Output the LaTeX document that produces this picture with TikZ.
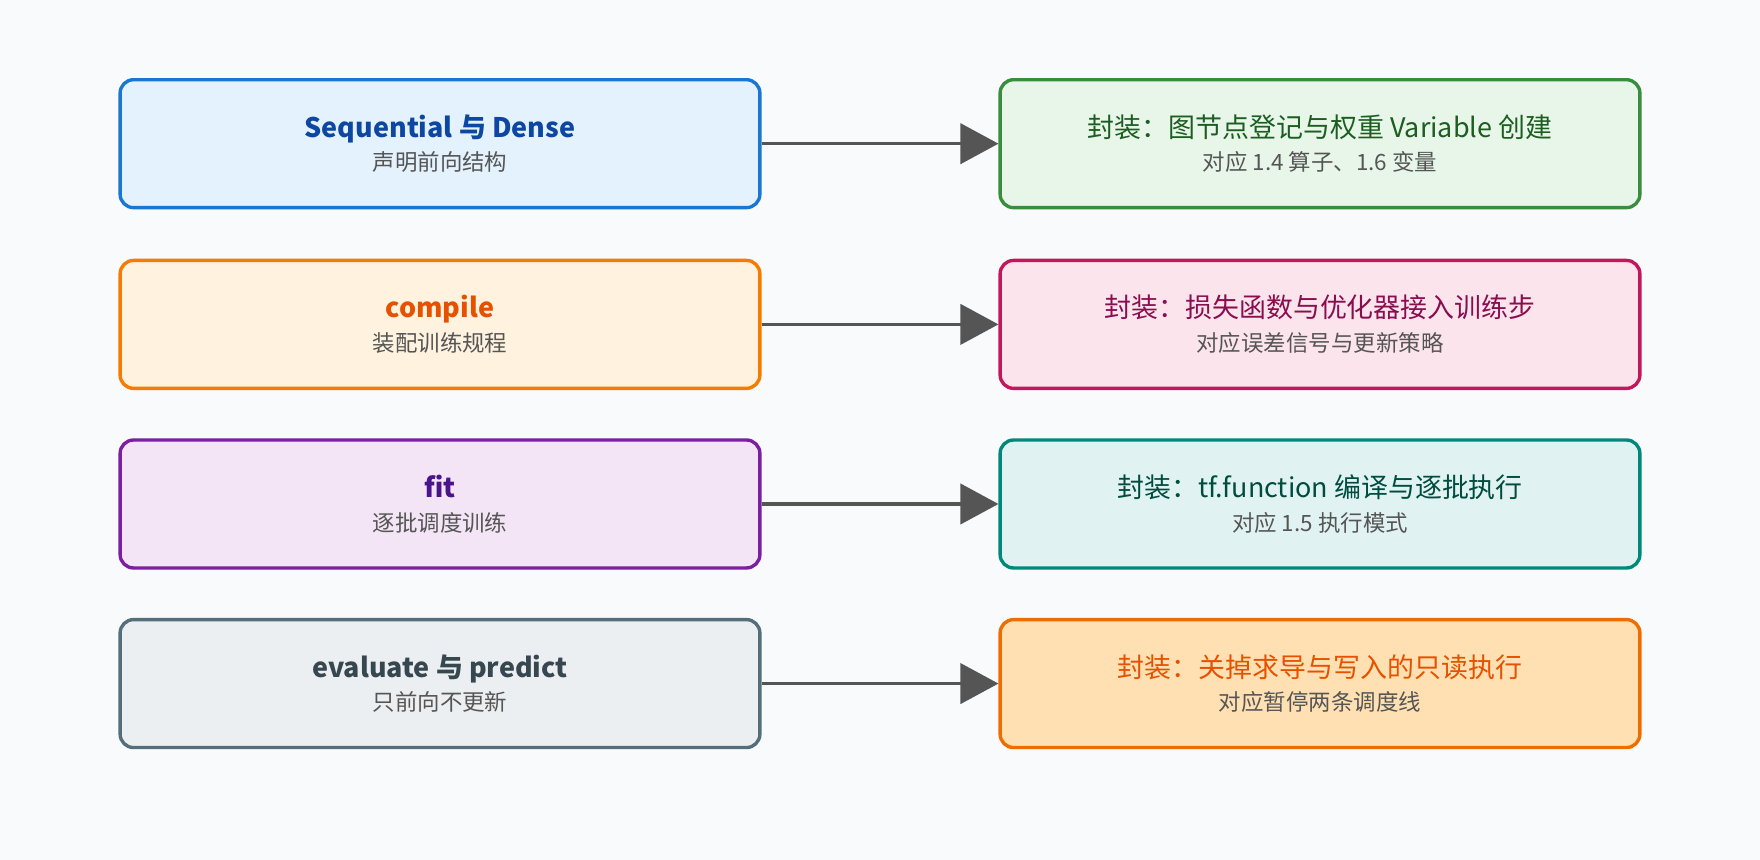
\documentclass[tikz,border=0pt]{standalone}
\usepackage{fontspec}
\setmainfont{Noto Sans CJK SC}
\usetikzlibrary{positioning,arrows.meta}
\definecolor{bgc}{HTML}{F8FAFC}
\definecolor{subc}{HTML}{555555}
\definecolor{arrc}{HTML}{555555}
\definecolor{bA}{HTML}{1976D2}\definecolor{fA}{HTML}{E3F2FD}
\definecolor{bB}{HTML}{F57C00}\definecolor{fB}{HTML}{FFF3E0}
\definecolor{bC}{HTML}{7B1FA2}\definecolor{fC}{HTML}{F3E5F5}
\definecolor{bD}{HTML}{546E7A}\definecolor{fD}{HTML}{ECEFF1}
\definecolor{bE}{HTML}{388E3C}\definecolor{fE}{HTML}{E8F5E9}
\definecolor{bF}{HTML}{C2185B}\definecolor{fF}{HTML}{FCE4EC}
\definecolor{bG}{HTML}{00897B}\definecolor{fG}{HTML}{E0F2F1}
\definecolor{bH}{HTML}{EF6C00}\definecolor{fH}{HTML}{FFE0B2}
\tikzset{
  box/.style={draw, line width=1.5pt, rounded corners=6pt, minimum width=285pt,
    minimum height=57pt, inner sep=0pt},
  flow/.style={draw=arrc, line width=1.5pt, -{Triangle[length=17pt,width=18pt]}}
}
\newcommand{\ttl}[3]{\parbox{270pt}{\centering{\fontsize{12}{14}\selectfont\color[HTML]{#1}#2}\\[3pt]{\fontsize{10}{12}\selectfont\color{subc}#3}}}
\begin{document}
\begin{tikzpicture}[x=0.5pt,y=-0.5pt]
\fill[bgc] (0,0) rectangle (1568,766);
% left column
\node[box, draw=bA, fill=fA] (seq) at (392,128)
  {\ttl{0D47A1}{\bfseries Sequential 与 Dense}{声明前向结构}};
\node[box, draw=bB, fill=fB] (comp) at (392,289)
  {\ttl{E65100}{\bfseries compile}{装配训练规程}};
\node[box, draw=bC, fill=fC] (fit) at (392,449)
  {\ttl{4A148C}{\bfseries fit}{逐批调度训练}};
\node[box, draw=bD, fill=fD] (eval) at (392,609)
  {\ttl{37474F}{\bfseries evaluate 与 predict}{只前向不更新}};
% right column
\node[box, draw=bE, fill=fE] (graph) at (1176,128)
  {\ttl{1B5E20}{封装：图节点登记与权重 Variable 创建}{对应 1.4 算子、1.6 变量}};
\node[box, draw=bF, fill=fF] (loss) at (1176,289)
  {\ttl{880E4F}{封装：损失函数与优化器接入训练步}{对应误差信号与更新策略}};
\node[box, draw=bG, fill=fG] (tff) at (1176,449)
  {\ttl{004D40}{封装：tf.function 编译与逐批执行}{对应 1.5 执行模式}};
\node[box, draw=bH, fill=fH] (ro) at (1176,609)
  {\ttl{E65100}{封装：关掉求导与写入的只读执行}{对应暂停两条调度线}};
% arrows
\draw[flow] (seq) -- (graph);
\draw[flow] (comp) -- (loss);
\draw[flow] (fit) -- (tff);
\draw[flow] (eval) -- (ro);
\end{tikzpicture}
\end{document}
